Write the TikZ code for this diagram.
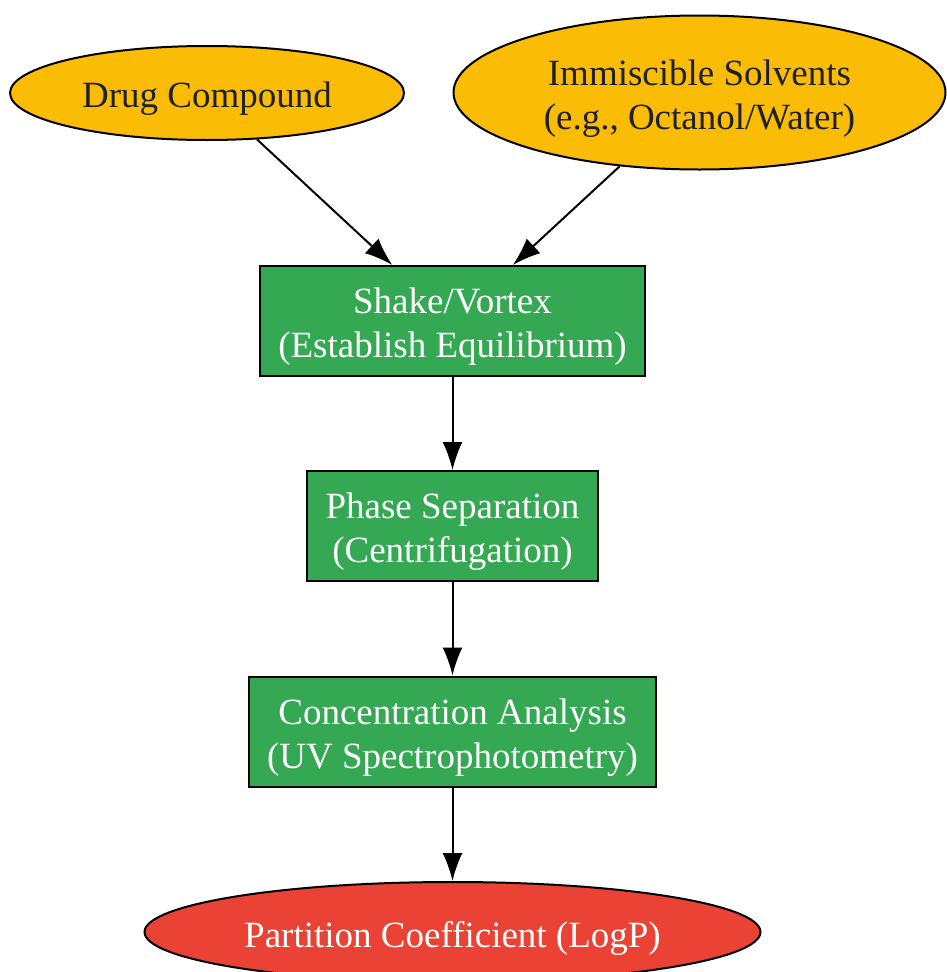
\documentclass[tikz,border=0pt]{standalone}
\usepackage{fontspec}
\setmainfont{Liberation Serif}
\usetikzlibrary{shapes.geometric,arrows.meta}
\definecolor{gyellow}{HTML}{FBBC05}
\definecolor{ggreen}{HTML}{34A853}
\definecolor{gred}{HTML}{EA4335}
\definecolor{gtext}{HTML}{202124}
\tikzset{
  base/.style={draw=black, line width=2pt, inner sep=0pt},
  lbl/.style={align=center, inner sep=0pt, yshift=-6pt,
    font=\fontsize{37}{44}\selectfont},
  inputell/.style={base, ellipse, fill=gyellow},
  stepbox/.style={base, rectangle, fill=ggreen},
  outell/.style={base, ellipse, fill=gred},
  conn/.style={draw=black, line width=2pt, -{Latex[length=28pt,width=20pt]}}
}
\begin{document}
\begin{tikzpicture}[x=1pt,y=-1pt]
\useasboundingbox (0,0) rectangle (946,972);
\node[inputell, minimum width=394pt, minimum height=94pt,
  label={[lbl,text=gtext]center:{Drug Compound}}] (drug) at (207,93) {};
\node[inputell, minimum width=492pt, minimum height=154pt,
  label={[lbl,text=gtext]center:{Immiscible Solvents\\(e.g., Octanol/Water)}}] (solv) at (699.5,92.5) {};
\node[stepbox, minimum width=385pt, minimum height=110pt,
  label={[lbl,text=white]center:{Shake/Vortex\\(Establish Equilibrium)}}] (shake) at (452.5,321) {};
\node[stepbox, minimum width=291pt, minimum height=110pt,
  label={[lbl,text=white]center:{Phase Separation\\(Centrifugation)}}] (phase) at (452.5,526) {};
\node[stepbox, minimum width=407pt, minimum height=110pt,
  label={[lbl,text=white]center:{Concentration Analysis\\(UV Spectrophotometry)}}] (conc) at (452.5,731.5) {};
\node[outell, minimum width=616pt, minimum height=100pt,
  label={[lbl,text=white]center:{Partition Coefficient (LogP)}}] (logp) at (452.5,932) {};
\draw[conn] (drug) -- (shake);
\draw[conn] (solv) -- (shake);
\draw[conn] (shake) -- (phase);
\draw[conn] (phase) -- (conc);
\draw[conn] (conc) -- (logp);
\end{tikzpicture}
\end{document}
